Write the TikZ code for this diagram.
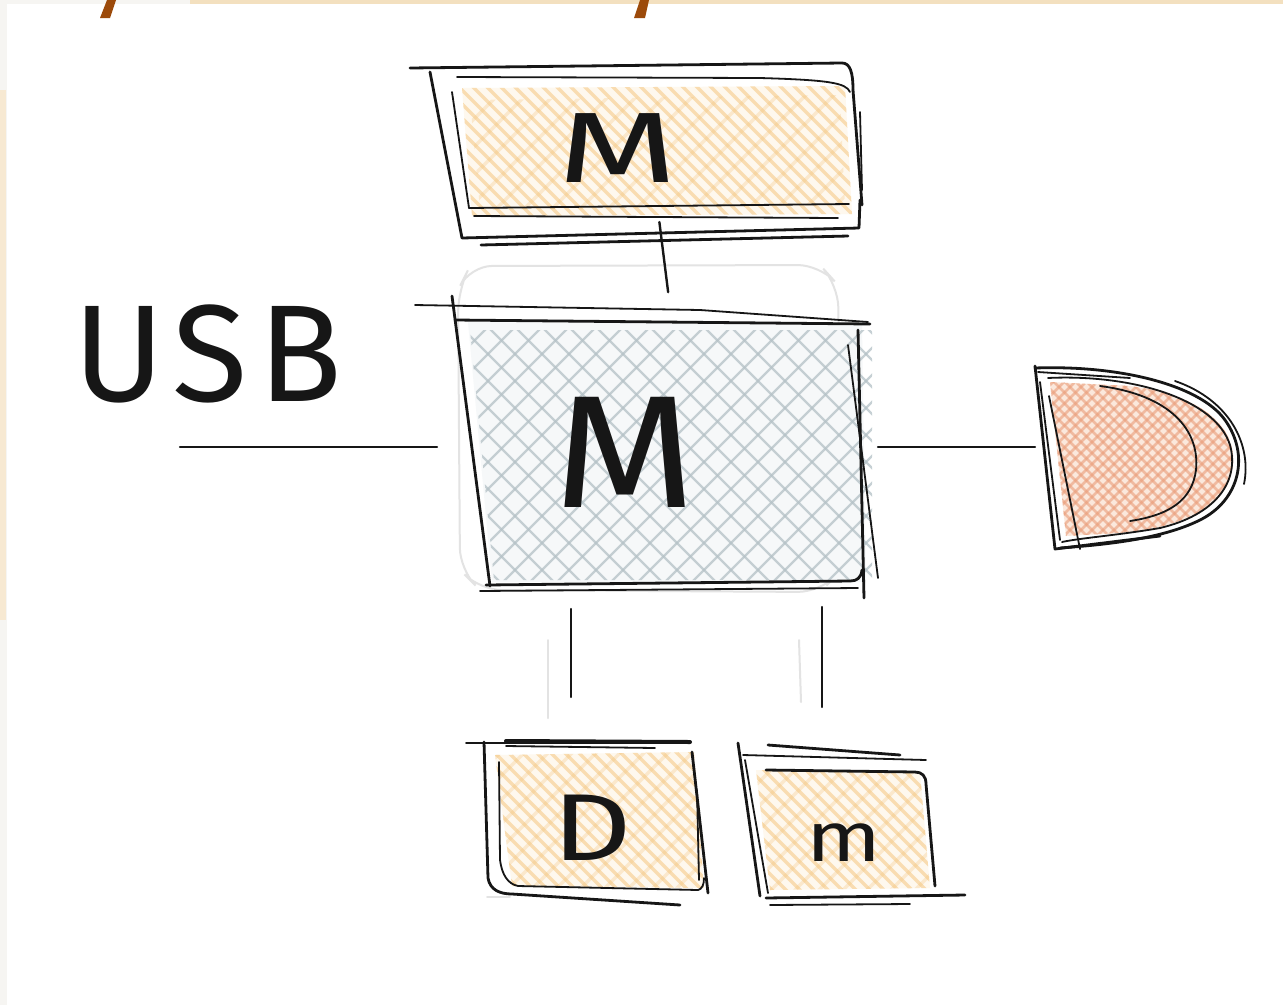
\documentclass[tikz,border=0pt]{standalone}
\usepackage{fontspec}
\setsansfont{Fira Sans}
\newfontfamily\hand{Fira Sans}
\usetikzlibrary{calc}
\definecolor{ink}{HTML}{161616}
\definecolor{paper}{HTML}{F6F5F2}
\definecolor{cream}{HTML}{F3E0BF}
\definecolor{brownink}{HTML}{9C4A0A}
\definecolor{orhatch}{HTML}{F5C67F}
\definecolor{orbase}{HTML}{FEF8EE}
\definecolor{grhatch}{HTML}{B4C1C6}
\definecolor{grbase}{HTML}{F6F8F9}
\definecolor{redhatch}{HTML}{EA9C78}
\definecolor{redbase}{HTML}{FBE8DC}
\tikzset{
  sk/.style={draw=ink, line width=2.8pt, line cap=round, line join=round},
  skthin/.style={draw=ink, line width=1.8pt, line cap=round, line join=round},
  faint/.style={draw=black!11, line width=2pt, line cap=round},
  conn/.style={draw=ink, line width=2.4pt, line cap=round},
  anchorbox/.style={inner sep=0pt, outer sep=0pt},
  lbl/.style={inner sep=0pt, text=ink, font=\hand},
  ohatch/.style={draw=orhatch, line width=3.4pt, opacity=.55},
  ghatch/.style={draw=grhatch, line width=2.2pt, opacity=.75},
  rhatch/.style={draw=redhatch, line width=2.6pt, opacity=.6}
}
% forward "/" hatching inside a clip path
\newcommand\hatchA[3]{\begin{scope}\clip #2;
  \foreach \t in {0,#3,...,2100}{\draw[#1] (\t-1000,1005) -- ++(1005,-1005);}
  \end{scope}}
% backward "\" hatching inside a clip path
\newcommand\hatchB[3]{\begin{scope}\clip #2;
  \foreach \t in {0,#3,...,2100}{\draw[#1] (\t-1000,0) -- ++(1005,1005);}
  \end{scope}}
\begin{document}
\begin{tikzpicture}[x=1pt,y=-1pt]
\useasboundingbox (0,0) rectangle (1283,1005);
% paper
\fill[paper] (0,0) rectangle (1283,1005);
\fill[white] (7,4) rectangle (1283,1005);
\fill[cream] (190,0) rectangle (1283,4);
\fill[cream!70] (0,90) rectangle (6,620);
\fill[brownink] (107,0) -- (116,0) -- (110,18) -- (100,18) -- cycle;
\fill[brownink] (640,0) -- (649,0) -- (645,18) -- (634,18) -- cycle;

% ---------- named anchor boxes ----------
\node[anchorbox, minimum width=400pt, minimum height=150pt] (top) at (655,152) {};
\node[anchorbox, minimum width=400pt, minimum height=280pt] (mid) at (665,447) {};
\node[anchorbox, minimum width=210pt, minimum height=184pt] (disp) at (1140,458) {};
\node[anchorbox, minimum width=230pt, minimum height=160pt] (dbox) at (595,820) {};
\node[anchorbox, minimum width=230pt, minimum height=160pt] (mbox) at (850,820) {};
\coordinate (usbin) at (180,447);
\coordinate (fa1) at (548,640);
\coordinate (fa2) at (548,718);
\coordinate (fb1) at (799,640);
\coordinate (fb2) at (801,702);

% ---------- top box ----------
\fill[orbase] (462,88) -- (845,86) -- (852,214) -- (472,216) -- cycle;
\hatchB{ohatch}{{(462,88) -- (845,86) -- (852,214) -- (472,216) -- cycle}}{14}
\hatchA{ohatch,opacity=.3}{{(470,100) -- (840,95) -- (845,205) -- (480,210) -- cycle}}{28}
\draw[sk] (410,68) -- (842,63) .. controls (850,63) and (853,72) .. (853,90);
\draw[skthin] (457,77) -- (760,78) .. controls (830,80) and (846,83) .. (850,92);
\draw[sk] (430,72) -- (462,238) -- (859,228) -- (860,200);
\draw[sk] (853,90) -- (862,205);
\draw[skthin] (860,112) -- (862,190);
\draw[skthin] (452,92) -- (469,208);
\draw[skthin] (469,208) -- (849,204);
\draw[skthin] (474,216) -- (838,218);
\draw[sk] (481,245) -- (848,236);
\node[lbl, font=\hand\fontsize{100}{100}\selectfont] (topL) at (618,148) {\scalebox{1.55}[1]{M}};

% ---------- middle box ----------
\draw[faint, rounded corners=22pt] (458,290) -- (470,266) -- (820,265) -- (838,285) -- (842,570) -- (820,592) -- (480,590) -- (460,570) -- cycle;
\fill[grbase] (468,322) -- (862,325) -- (866,582) -- (492,582) -- cycle;
\hatchA{ghatch}{{(470,330) -- (872,330) -- (872,580) -- (494,580) -- cycle}}{27}
\hatchB{ghatch}{{(470,330) -- (872,330) -- (872,580) -- (494,580) -- cycle}}{27}
\draw[skthin] (415,305) -- (700,310) -- (868,322);
\draw[sk] (455,320) -- (870,324);
\draw[sk] (452,296) -- (490,586);
\draw[sk] (486,585) -- (850,581) .. controls (857,581) and (861,578) .. (862,570);
\draw[skthin] (480,591) -- (858,588);
\draw[sk] (858,330) -- (864,598);
\draw[skthin] (848,345) -- (878,578);
\node[lbl, font=\hand\fontsize{160}{160}\selectfont] (midL) at (625,452) {\scalebox{1.15}[1]{M}};

% ---------- display shape ----------
\fill[redbase] (1050,382) -- (1066,536) -- (1120,533) .. controls (1200,526) and (1236,495) .. (1233,455) .. controls (1229,410) and (1170,386) .. (1110,385) -- cycle;
\hatchA{rhatch}{{(1050,382) -- (1066,536) -- (1120,533) .. controls (1200,526) and (1236,495) .. (1233,455) .. controls (1229,410) and (1170,386) .. (1110,385) -- cycle}}{11}
\hatchB{rhatch}{{(1050,382) -- (1066,536) -- (1120,533) .. controls (1200,526) and (1236,495) .. (1233,455) .. controls (1229,410) and (1170,386) .. (1110,385) -- cycle}}{11}
\draw[sk] (1035,366) -- (1055,549) -- (1160,536);
\draw[sk] (1035,368) .. controls (1120,365) and (1200,385) .. (1225,420) .. controls (1250,455) and (1240,500) .. (1200,520) .. controls (1160,540) and (1100,545) .. (1060,548);
\draw[skthin] (1048,378) .. controls (1130,374) and (1215,398) .. (1230,445) .. controls (1240,482) and (1215,515) .. (1160,528) .. controls (1120,535) and (1080,538) .. (1062,542);
\draw[skthin] (1049,396) -- (1080,549);
\draw[skthin] (1040,382) -- (1060,540);
\draw[skthin] (1100,386) .. controls (1170,395) and (1200,430) .. (1196,470) .. controls (1192,500) and (1170,515) .. (1130,521);
\draw[skthin] (1175,381) .. controls (1230,400) and (1252,445) .. (1244,484);
\draw[skthin] (1038,372) -- (1130,378);

% ---------- bottom-left box D ----------
\fill[orbase] (495,755) -- (694,752) -- (704,888) -- (512,886) -- cycle;
\hatchB{ohatch}{{(495,755) -- (694,752) -- (704,888) -- (512,886) -- cycle}}{14}
\hatchA{ohatch,opacity=.3}{{(495,755) -- (694,752) -- (704,888) -- (512,886) -- cycle}}{24}
\draw[skthin] (466,743) -- (690,743);
\draw[sk, line width=4pt] (506,741) -- (690,742);
\draw[skthin] (506,746) -- (655,748);
\draw[sk] (484,742) -- (488,878) .. controls (490,890) and (500,894) .. (512,894) -- (680,905);
\draw[skthin] (499,762) -- (500,860) .. controls (502,875) and (508,884) .. (518,886) -- (698,890) .. controls (702,889) and (704,885) .. (704,878);
\draw[sk] (692,752) -- (708,893);
\draw[skthin] (697,790) -- (699,880);
\draw[faint] (487,897) -- (510,897);
\node[lbl, font=\hand\fontsize{95}{95}\selectfont] (dL) at (592,828) {\scalebox{1.3}[1]{D}};

% ---------- bottom-right box m ----------
\fill[orbase] (756,770) -- (920,772) -- (930,888) -- (770,890) -- cycle;
\hatchB{ohatch}{{(756,770) -- (920,772) -- (930,888) -- (770,890) -- cycle}}{14}
\hatchA{ohatch,opacity=.3}{{(756,770) -- (920,772) -- (930,888) -- (770,890) -- cycle}}{24}
\draw[sk] (738,743) -- (760,896);
\draw[skthin] (745,760) -- (768,893);
\draw[skthin] (743,755) -- (926,760);
\draw[sk] (768,745) -- (900,755);
\draw[sk] (766,770) -- (915,772) .. controls (922,772) and (926,776) .. (926,784) -- (935,886);
\draw[sk] (766,898) -- (965,895);
\draw[skthin] (770,905) -- (910,904);
\node[lbl, font=\hand\fontsize{70}{70}\selectfont] (mL) at (844,843) {\scalebox{1.25}[1]{m}};

% ---------- USB label ----------
\node[lbl, font=\hand\fontsize{138}{138}\selectfont] (usb) at (208,354) {U\hspace{8pt}S\hspace{10pt}B};

% ---------- connectors ----------
\draw[conn, shorten <=-5pt, shorten >=15pt] ([xshift=5pt]top.south) -- ([xshift=5pt]mid.north);
\draw[conn, shorten >=28pt] (usbin) -- (mid.west);
\draw[conn, shorten <=13pt] (mid.east) -- (mid.east -| disp.west);
\draw[conn, shorten <=22pt, shorten >=43pt] ([xshift=-24pt]dbox.north |- mid.south) -- ([xshift=-24pt]dbox.north);
\draw[conn, shorten <=20pt, shorten >=33pt] ([xshift=-28pt]mbox.north |- mid.south) -- ([xshift=-28pt]mbox.north);
\draw[faint] (fa1) -- (fa2);
\draw[faint] (fb1) -- (fb2);
\end{tikzpicture}
\end{document}
